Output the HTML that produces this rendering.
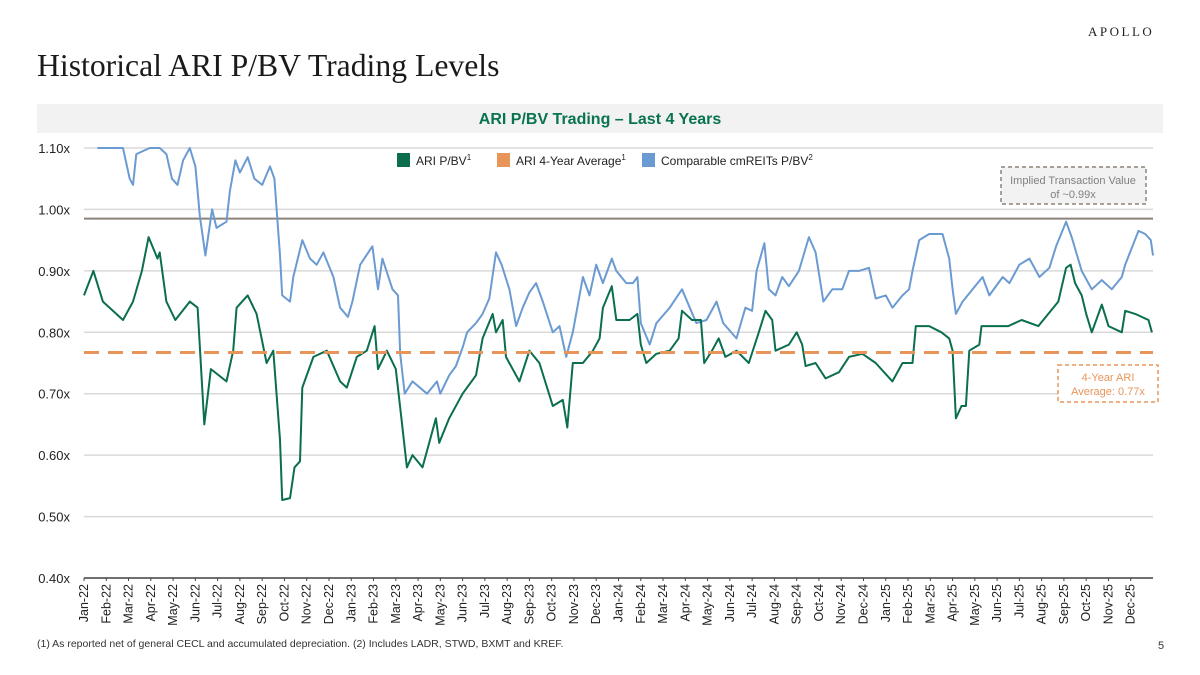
<!DOCTYPE html>
<html><head><meta charset="utf-8"><style>
body{margin:0;width:1200px;height:675px;background:#fff;overflow:hidden;position:relative;font-family:"Liberation Sans",sans-serif}
.t{position:absolute;white-space:nowrap}
</style></head><body>
<div class="t" style="left:1088px;top:24px;font-family:'Liberation Serif',serif;font-size:13px;letter-spacing:2.5px;color:#222">APOLLO</div>
<div class="t" style="left:37px;top:48px;font-family:'Liberation Serif',serif;font-size:31.7px;color:#1a1a1a">Historical ARI P/BV Trading Levels</div>
<div class="t" style="left:37px;top:104px;width:1126px;height:29px;background:#f2f2f2;text-align:center;line-height:31px;font-size:16px;font-weight:bold;color:#0a7350">ARI P/BV Trading – Last 4 Years</div>
<svg id="chart" width="1200" height="675" style="position:absolute;left:0;top:0" xmlns="http://www.w3.org/2000/svg"></svg>
<div class="t" style="left:37px;top:638px;font-size:10.5px;color:#333">(1) As reported net of general CECL and accumulated depreciation. (2) Includes LADR, STWD, BXMT and KREF.</div>
<div class="t" style="left:1158px;top:640px;font-size:11px;color:#333">5</div>
<script>
const yTicks=[0.4,0.5,0.6,0.7,0.8,0.9,1.0,1.1];
const yTickLabels=["0.40x","0.50x","0.60x","0.70x","0.80x","0.90x","1.00x","1.10x"];
const months=["Jan-22","Feb-22","Mar-22","Apr-22","May-22","Jun-22","Jul-22","Aug-22","Sep-22","Oct-22","Nov-22","Dec-22","Jan-23","Feb-23","Mar-23","Apr-23","May-23","Jun-23","Jul-23","Aug-23","Sep-23","Oct-23","Nov-23","Dec-23","Jan-24","Feb-24","Mar-24","Apr-24","May-24","Jun-24","Jul-24","Aug-24","Sep-24","Oct-24","Nov-24","Dec-24","Jan-25","Feb-25","Mar-25","Apr-25","May-25","Jun-25","Jul-25","Aug-25","Sep-25","Oct-25","Nov-25","Dec-25"];
const ariT=[0,0.42,0.85,1.75,2.2,2.6,2.9,3.3,3.4,3.7,4.1,4.75,5.1,5.4,5.7,6.4,6.7,6.85,7.35,7.75,8.2,8.5,8.8,8.9,9.25,9.45,9.7,9.8,10.3,10.9,11.5,11.8,12.25,12.7,13.05,13.2,13.6,14.0,14.25,14.5,14.75,15.2,15.8,15.95,16.4,17.0,17.6,17.9,18.35,18.5,18.8,18.95,19.55,20.0,20.45,21.05,21.5,21.7,21.95,22.4,22.85,23.15,23.3,23.7,23.9,24.5,24.85,25.0,25.25,25.7,26.3,26.7,26.85,27.3,27.7,27.85,28.2,28.5,28.8,29.3,29.85,30.3,30.6,30.9,31.05,31.65,32.0,32.25,32.4,32.85,33.3,33.9,34.35,34.95,35.55,36.3,36.75,37.2,37.35,37.95,38.5,38.85,39.0,39.15,39.4,39.6,39.75,40.2,40.3,41.5,42.1,42.85,43.3,43.75,44.1,44.3,44.5,44.8,45.0,45.25,45.7,46.0,46.6,46.75,47.2,47.8,47.95];
const ariV=[0.86,0.90,0.85,0.82,0.85,0.90,0.955,0.92,0.93,0.85,0.82,0.85,0.84,0.65,0.74,0.72,0.77,0.84,0.86,0.83,0.75,0.77,0.625,0.527,0.53,0.58,0.59,0.71,0.76,0.77,0.72,0.71,0.76,0.77,0.81,0.74,0.77,0.74,0.66,0.58,0.60,0.58,0.66,0.62,0.66,0.70,0.73,0.79,0.83,0.80,0.82,0.76,0.72,0.77,0.75,0.68,0.69,0.645,0.75,0.75,0.77,0.79,0.84,0.875,0.82,0.82,0.83,0.78,0.75,0.765,0.77,0.79,0.835,0.82,0.82,0.75,0.77,0.79,0.76,0.77,0.75,0.80,0.835,0.82,0.77,0.78,0.80,0.78,0.745,0.75,0.725,0.735,0.76,0.765,0.75,0.72,0.75,0.75,0.81,0.81,0.80,0.79,0.77,0.66,0.68,0.68,0.77,0.78,0.81,0.81,0.82,0.81,0.83,0.85,0.905,0.91,0.88,0.86,0.83,0.80,0.845,0.81,0.80,0.835,0.83,0.82,0.80];
const compT=[0.6,1.15,1.75,2.05,2.2,2.35,2.95,3.4,3.7,3.95,4.2,4.45,4.75,5.0,5.2,5.45,5.75,5.95,6.4,6.55,6.8,7.0,7.35,7.65,8.0,8.35,8.55,8.8,8.9,9.25,9.4,9.8,10.15,10.45,10.75,11.2,11.5,11.85,12.05,12.4,12.95,13.2,13.4,13.85,14.1,14.2,14.4,14.75,15.4,15.85,16.0,16.4,16.7,17.0,17.2,17.6,17.9,18.2,18.5,18.75,19.1,19.4,19.7,20.0,20.3,20.6,21.05,21.35,21.65,21.95,22.4,22.7,23.0,23.3,23.7,23.9,24.35,24.65,24.85,25.0,25.4,25.7,26.3,26.85,27.2,27.5,27.95,28.4,28.7,29.3,29.7,30.0,30.2,30.55,30.75,31.05,31.35,31.65,32.1,32.55,32.85,33.2,33.6,34.05,34.35,34.8,35.25,35.55,36.0,36.3,36.75,37.05,37.2,37.5,37.95,38.55,38.85,39.0,39.15,39.45,39.9,40.35,40.65,41.25,41.55,42.0,42.45,42.9,43.35,43.65,44.1,44.35,44.8,45.25,45.7,46.15,46.6,46.75,47.35,47.65,47.9,48.0];
const compV=[1.10,1.10,1.10,1.05,1.04,1.09,1.10,1.10,1.09,1.05,1.04,1.08,1.10,1.07,0.99,0.925,1.00,0.97,0.98,1.03,1.08,1.06,1.085,1.05,1.04,1.07,1.05,0.925,0.86,0.85,0.89,0.95,0.92,0.91,0.93,0.89,0.84,0.825,0.85,0.91,0.94,0.87,0.92,0.87,0.86,0.765,0.70,0.72,0.70,0.72,0.70,0.73,0.745,0.775,0.80,0.815,0.83,0.855,0.93,0.91,0.87,0.81,0.84,0.865,0.88,0.85,0.80,0.81,0.76,0.80,0.89,0.86,0.91,0.88,0.92,0.90,0.88,0.88,0.89,0.815,0.78,0.815,0.84,0.87,0.84,0.815,0.82,0.85,0.815,0.79,0.84,0.835,0.90,0.945,0.87,0.86,0.89,0.875,0.90,0.955,0.93,0.85,0.87,0.87,0.90,0.90,0.905,0.855,0.86,0.84,0.86,0.87,0.90,0.95,0.96,0.96,0.92,0.87,0.83,0.85,0.87,0.89,0.86,0.89,0.88,0.91,0.92,0.89,0.905,0.94,0.98,0.955,0.90,0.87,0.885,0.87,0.89,0.91,0.965,0.96,0.95,0.925];
const avgValue=0.767;
const impliedValue=0.985;

const svg=document.getElementById('chart');
const NS='http://www.w3.org/2000/svg';
const X0=84,X1=1153,Y0=578,Y1=148;
function x(m){return X0+(X1-X0)*m/48;}
function y(v){return Y0-(v-0.4)/(0.7)*(Y0-Y1);}
function mk(tag,attrs,parent){const e=document.createElementNS(NS,tag);for(const k in attrs)e.setAttribute(k,attrs[k]);(parent||svg).appendChild(e);return e;}

yTicks.forEach((v,i)=>{
  if(i>0){const g=mk('line',{x1:X0,x2:X1,y1:y(v),y2:y(v),stroke:'#d9d9d9','stroke-width':1.5});
  
  }
  const t=mk('text',{x:70,y:y(v)+5,'text-anchor':'end','font-size':13,fill:'#222','font-family':'Liberation Sans, sans-serif'});
  t.textContent=yTickLabels[i];
  
  
});
const ax=mk('line',{x1:X0,x2:X1,y1:Y0,y2:Y0,stroke:'#404040','stroke-width':1.5});


months.forEach((m,i)=>{
  const tk=mk('line',{x1:x(i),x2:x(i),y1:Y0,y2:Y0+3,stroke:'#404040','stroke-width':1});
  
  
  const cx=x(i)+4;
  const t=mk('text',{x:0,y:0,transform:`translate(${cx},584) rotate(-90)`,'text-anchor':'end','font-size':12.5,fill:'#222','font-family':'Liberation Sans, sans-serif'});
  t.textContent=m;
  
  
});
const il=mk('line',{x1:X0,x2:X1,y1:y(impliedValue),y2:y(impliedValue),stroke:'#8c8279','stroke-width':2});



function path(T,V,color,name){
  const d=T.map((t,i)=>(i?'L':'M')+x(t).toFixed(1)+','+y(Math.min(1.1,V[i])).toFixed(1)).join('');
  const p=mk('path',{d:d,fill:'none',stroke:color,'stroke-width':2,'stroke-linejoin':'round'});
  
  
}
path(compT,compV,'#6b9bd2','comparable-cmreits-line');
path(ariT,ariV,'#0a6e4f','ari-pbv-line');
const al=mk('line',{x1:X0,x2:X1,y1:y(avgValue),y2:y(avgValue),stroke:'#e8955a','stroke-width':3,'stroke-dasharray':'15,9'});



const leg=[['#0a6e4f',397,'ARI P/BV','1','legend-ari'],['#e8955a',497,'ARI 4-Year Average','1','legend-average'],['#6b9bd2',642,'Comparable cmREITs P/BV','2','legend-comparables']];
leg.forEach(l=>{
  const r=mk('rect',{x:l[1],y:153,width:13,height:14,fill:l[0]});
  
  
  const t=mk('text',{x:l[1]+19,y:165,'font-size':12,fill:'#222','font-family':'Liberation Sans, sans-serif'});
  
  
  t.textContent=l[2];
  const s=mk('tspan',{'font-size':8,dy:-5},t);s.textContent=l[3];
});
const b1=mk('rect',{x:1001,y:167,width:145,height:37,fill:'#f2f2f2',stroke:'#8c8279','stroke-width':1.5,'stroke-dasharray':'4,3'});


[['Implied Transaction Value',184],['of ~0.99x',198]].forEach(a=>{const t=mk('text',{x:1073,y:a[1],'text-anchor':'middle','font-size':11,fill:'#808080','font-family':'Liberation Sans, sans-serif'});t.textContent=a[0];

});
const b2=mk('rect',{x:1058,y:365,width:100,height:37,fill:'#fff',stroke:'#e8955a','stroke-width':1.5,'stroke-dasharray':'4,3'});


[['4-Year ARI',381],['Average: 0.77x',395]].forEach(a=>{const t=mk('text',{x:1108,y:a[1],'text-anchor':'middle','font-size':11,fill:'#e8955a','font-family':'Liberation Sans, sans-serif'});t.textContent=a[0];

});
</script>
</body></html>
